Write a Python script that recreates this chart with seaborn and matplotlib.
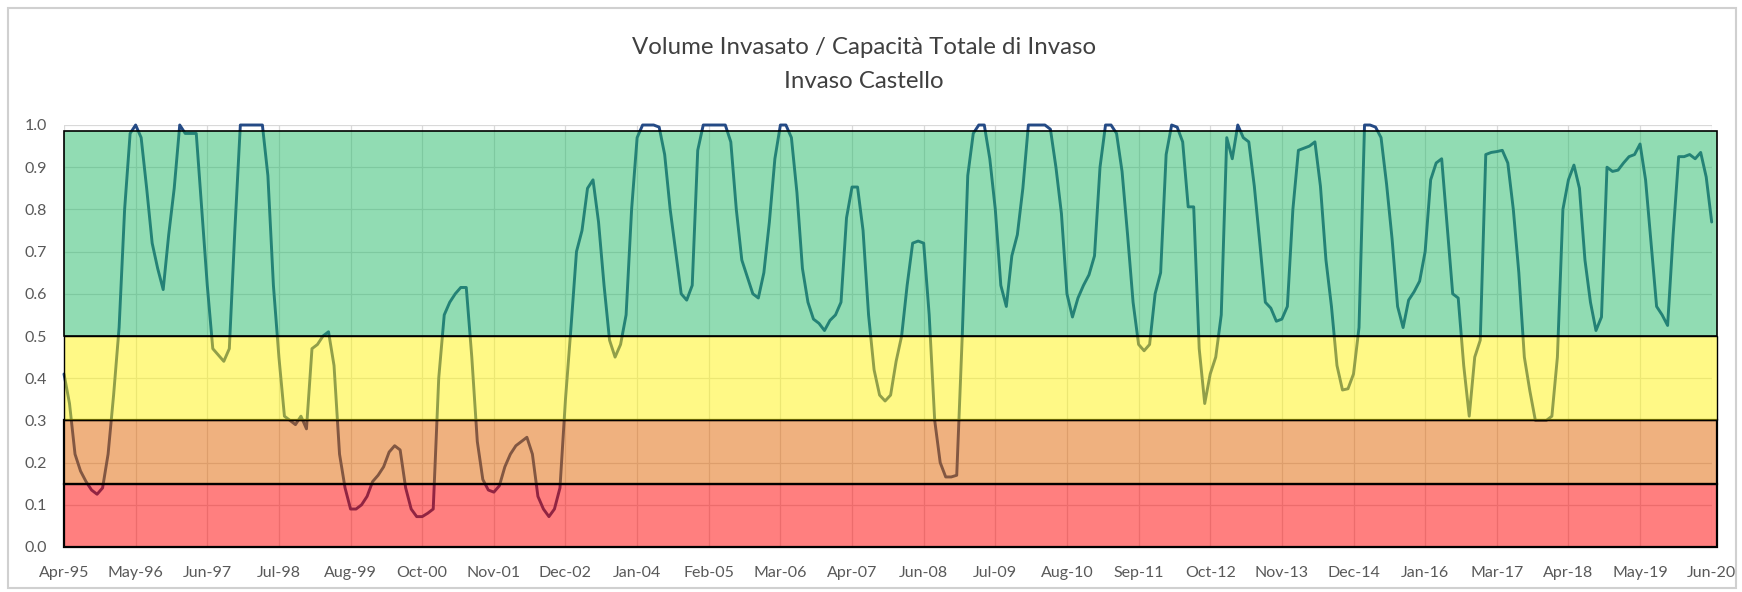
import matplotlib
matplotlib.use("Agg")
import matplotlib.pyplot as plt
from matplotlib.patches import Rectangle
import numpy as np
import pandas as pd
import seaborn as sns


TITLE = "Volume Invasato / Capacità Totale di Invaso"
SUBTITLE = "Invaso Castello"

# monthly storage ratio, Apr-95 .. Jun-20 (300 readings)
VOLUME_RATIO = [
    0.41, 0.34, 0.22, 0.18, 0.155, 0.135, 0.125, 0.14, 0.22, 0.36,      # 0
    0.52, 0.80, 0.98, 1.00, 0.97, 0.85, 0.72, 0.66, 0.61, 0.74,         # 10
    0.85, 1.00, 0.98, 0.98, 0.98, 0.80, 0.62, 0.47, 0.455, 0.44,        # 20
    0.47, 0.75, 1.00, 1.00, 1.00, 1.00, 1.00, 0.88, 0.62, 0.45,         # 30
    0.31, 0.30, 0.29, 0.31, 0.28, 0.47, 0.48, 0.50, 0.51, 0.43,         # 40
    0.22, 0.14, 0.09, 0.09, 0.10, 0.12, 0.155, 0.17, 0.19, 0.225,       # 50
    0.24, 0.23, 0.14, 0.09, 0.072, 0.072, 0.08, 0.09, 0.40, 0.55,       # 60
    0.58, 0.60, 0.615, 0.615, 0.45, 0.25, 0.16, 0.135, 0.13, 0.145,     # 70
    0.19, 0.22, 0.24, 0.25, 0.26, 0.22, 0.12, 0.09, 0.072, 0.09,        # 80
    0.14, 0.35, 0.52, 0.70, 0.75, 0.85, 0.87, 0.77, 0.62, 0.49,         # 90
    0.45, 0.48, 0.55, 0.80, 0.97, 1.00, 1.00, 1.00, 0.995, 0.93,        # 100
    0.80, 0.70, 0.60, 0.585, 0.62, 0.94, 1.00, 1.00, 1.00, 1.00,        # 110
    1.00, 0.96, 0.80, 0.68, 0.64, 0.60, 0.59, 0.65, 0.77, 0.92,         # 120
    1.00, 1.00, 0.97, 0.84, 0.66, 0.58, 0.54, 0.53, 0.513, 0.537,       # 130
    0.55, 0.58, 0.78, 0.853, 0.853, 0.75, 0.55, 0.42, 0.36, 0.346,      # 140
    0.36, 0.44, 0.50, 0.62, 0.72, 0.725, 0.72, 0.55, 0.30, 0.20,        # 150
    0.166, 0.166, 0.17, 0.50, 0.88, 0.98, 1.00, 1.00, 0.92, 0.80,       # 160
    0.62, 0.57, 0.69, 0.74, 0.85, 1.00, 1.00, 1.00, 1.00, 0.99,         # 170
    0.90, 0.79, 0.60, 0.545, 0.59, 0.62, 0.645, 0.69, 0.90, 1.00,       # 180
    1.00, 0.98, 0.89, 0.74, 0.58, 0.48, 0.465, 0.48, 0.60, 0.65,        # 190
    0.93, 1.00, 0.995, 0.96, 0.806, 0.806, 0.47, 0.34, 0.41, 0.45,      # 200
    0.55, 0.97, 0.92, 1.00, 0.97, 0.96, 0.855, 0.72, 0.58, 0.566,       # 210
    0.535, 0.54, 0.57, 0.80, 0.94, 0.945, 0.95, 0.96, 0.855, 0.68,      # 220
    0.57, 0.43, 0.372, 0.375, 0.41, 0.52, 1.00, 1.00, 0.995, 0.97,      # 230
    0.86, 0.73, 0.57, 0.52, 0.585, 0.605, 0.63, 0.70, 0.87, 0.91,       # 240
    0.92, 0.76, 0.60, 0.59, 0.43, 0.31, 0.45, 0.49, 0.93, 0.935,        # 250
    0.937, 0.94, 0.91, 0.80, 0.65, 0.45, 0.37, 0.30, 0.30, 0.30,        # 260
    0.31, 0.45, 0.80, 0.87, 0.905, 0.85, 0.68, 0.58, 0.513, 0.545,      # 270
    0.90, 0.89, 0.893, 0.91, 0.925, 0.93, 0.955, 0.87, 0.72, 0.57,      # 280
    0.55, 0.525, 0.74, 0.925, 0.925, 0.93, 0.92, 0.935, 0.877, 0.77,    # 290
]

TICK_LABELS = [
    "Apr-95", "May-96", "Jun-97", "Jul-98", "Aug-99", "Oct-00", "Nov-01", "Dec-02",
    "Jan-04", "Feb-05", "Mar-06", "Apr-07", "Jun-08", "Jul-09", "Aug-10", "Sep-11",
    "Oct-12", "Nov-13", "Dec-14", "Jan-16", "Mar-17", "Apr-18", "May-19", "Jun-20",
]

# alert bands (lower, upper, colour)
BAND_LIMITS = [0.0, 0.15, 0.30, 0.50, 0.985]
BAND_COLORS = ["#ff0000", "#e16500", "#fff50f", "#25bb69"]


sns.set_style("white")
plt.rcParams["font.family"] = ["Lato", "DejaVu Sans"]

df = pd.DataFrame({"month": np.arange(len(VOLUME_RATIO)), "ratio": VOLUME_RATIO})
tick_step = 13

fig = plt.figure(figsize=(17.42, 5.92), dpi=100)
ax = fig.add_axes([64 / 1742, 45 / 592, 1647.7 / 1742, 422 / 592])

sns.lineplot(data=df, x="month", y="ratio", ax=ax, color="#244a85", linewidth=2.1, zorder=1)
for line in ax.lines:
    line.set_clip_on(False)

for lo, hi, col, lw in zip(BAND_LIMITS[:-1], BAND_LIMITS[1:], BAND_COLORS, [1.6, 1.6, 1.0, 1.2]):
    rgba = matplotlib.colors.to_rgba(col, 0.5)
    ax.add_patch(Rectangle((0, lo), len(VOLUME_RATIO), hi - lo, facecolor=rgba,
                           edgecolor="black", linewidth=lw, zorder=3, clip_on=False))

ax.set_xlim(0, len(VOLUME_RATIO) - 1)
ax.set_ylim(0, 1.0)
ax.set_xticks(np.arange(0, len(VOLUME_RATIO), tick_step))
ax.set_xticklabels(TICK_LABELS)
ax.set_yticks(np.arange(0, 1.01, 0.1))
ax.set_yticklabels([f"{v:.1f}" for v in np.arange(0, 1.01, 0.1)])
ax.grid(True, color="#d9d9d9", linewidth=0.9)
ax.set_axisbelow(True)
ax.tick_params(axis="both", length=0, labelsize=11.5, labelcolor="#595959")
ax.tick_params(axis="x", pad=14)
ax.tick_params(axis="y", pad=12)
ax.set_xlabel("")
ax.set_ylabel("")
for side in ["top", "right", "left"]:
    ax.spines[side].set_visible(False)
ax.spines["bottom"].set_color("#bfbfbf")

fig.text(0.496, 1 - 47 / 592, TITLE, ha="center", va="center", fontsize=17.3, color="#404040")
fig.text(0.496, 1 - 81 / 592, SUBTITLE, ha="center", va="center", fontsize=17.3, color="#404040")

fig.patches.append(Rectangle((8 / 1742, 4 / 592), 1728 / 1742, 580 / 592, transform=fig.transFigure,
                             fill=False, edgecolor="#d0d0d0", linewidth=1.5))

fig.savefig("out.png", dpi=100)
